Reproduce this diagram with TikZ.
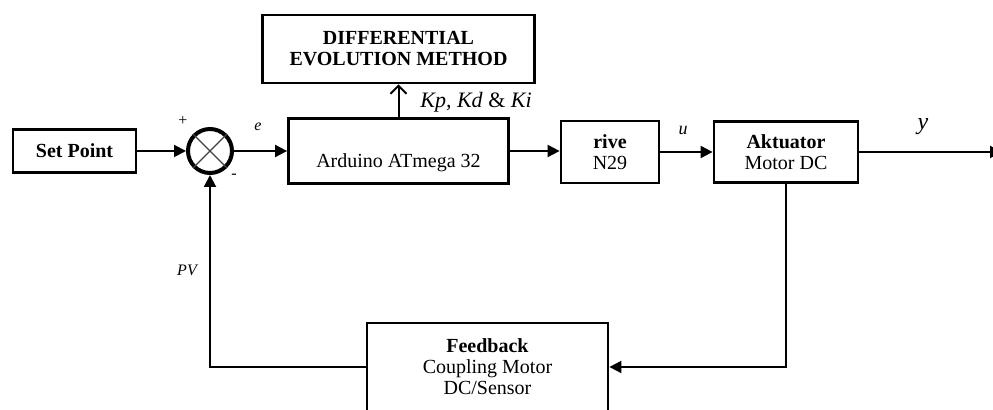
\documentclass[tikz,border=0pt]{standalone}
\usepackage{fontspec}
\setmainfont{Liberation Serif}
\usetikzlibrary{arrows.meta,positioning}
\tikzset{
  block/.style      = {draw=black, line width=1.4pt, inner sep=0pt, align=center,
                       font=\fontsize{10}{10.5}\selectfont},
  sum junction/.style = {circle, draw=black, line width=2pt, minimum size=22pt,
                       inner sep=0pt},
  signal/.style     = {-{Triangle[length=6pt,width=6pt]}, line width=1pt},
  tune link/.style  = {-{Straight Barb[length=4pt,width=8pt]}, line width=1pt},
  sig label/.style  = {inner sep=0pt, font=\fontsize{8}{9}\selectfont\itshape},
  sign label/.style = {inner sep=0pt, font=\fontsize{8}{9}\selectfont},
}

\begin{document}
\begin{tikzpicture}[x=0.5pt, y=-0.5pt]
  \path[use as bounding box, clip] (0,0) rectangle (993,410);
  % blocks of the loop
  \node[block, minimum width=61.5pt, minimum height=21.5pt] (setpoint) at (74.5,151) {\textbf{Set Point}};
  \node[sum junction] (sum) at (210,151) {};
  \draw[line width=0.6pt, black!75] (sum.north west) -- (sum.south east)
                                    (sum.north east) -- (sum.south west);
  \node[block, minimum width=110pt, text height=24.5pt, text depth=8pt] (arduino) at (398.5,151) {Arduino ATmega 32};
  \node[block, minimum width=136pt, minimum height=34pt] (devo) at (398.5,49) {\textbf{DIFFERENTIAL}\\\textbf{EVOLUTION METHOD}};
  \node[block, minimum width=49pt, minimum height=31pt] (driver) at (610,152) {\textbf{rive}\\N29};
  \node[block, minimum width=72pt, minimum height=30.5pt] (aktuator) at (786,152) {\textbf{Aktuator}\\Motor DC};
  \node[block, minimum width=120.5pt, minimum height=44pt] (feedback) at (487.5,367) {\textbf{Feedback}\\Coupling Motor\\DC/Sensor};
  \coordinate (output) at (1002,152);

  % signals
  \draw[signal] (setpoint) -- (sum);
  \draw[signal] (sum) -- (arduino);
  \draw[tune link] (arduino) -- (devo);
  \draw[signal] (arduino.east) -- (arduino.east -| driver.west);
  \draw[signal] (driver) -- (aktuator);
  \draw[signal] (aktuator) -- (output);
  \draw[signal] (aktuator.south) |- (feedback.east);
  \draw[signal] (feedback.west) -| (sum.south);

  % labels
  \node[sign label] (plus) at (183,121) {+};
  \node[sign label] (minus) at (234,176) {-};
  \node[sig label] (err) at (258,127) {e};
  \node[sig label, anchor=west, font=\fontsize{11}{12}\selectfont] (gains) at (420,102) {\textit{Kp, Kd} \& \textit{Ki}};
  \node[sig label, font=\fontsize{9}{10}\selectfont\itshape] (ctrlsig) at (683,130) {u};
  \node[sig label, font=\fontsize{12}{13}\selectfont\itshape] (outsig) at (923,127) {y};
  \node[sig label] (pv) at (187,270) {PV};
\end{tikzpicture}
\end{document}
